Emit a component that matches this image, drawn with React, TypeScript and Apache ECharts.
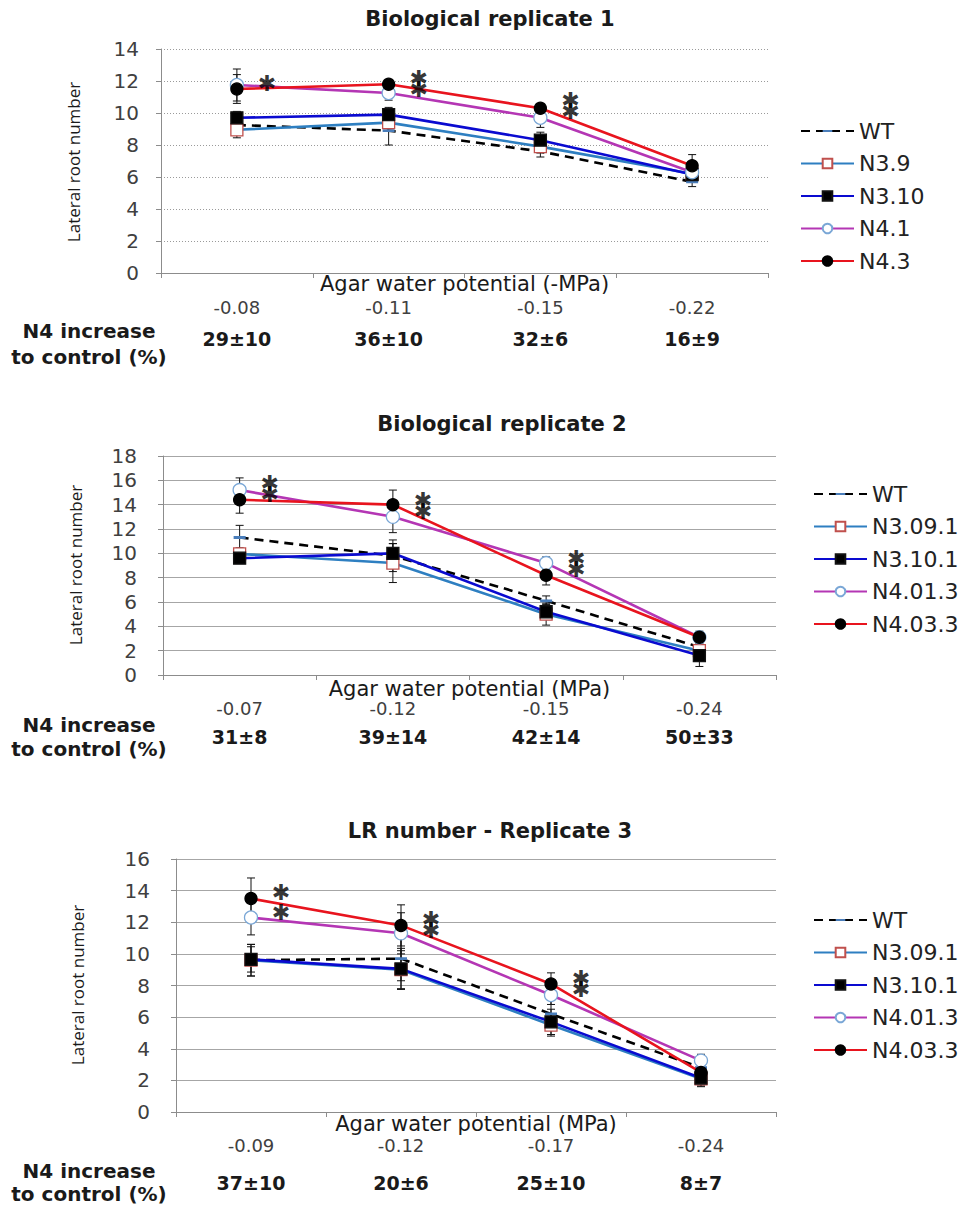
import React, { useEffect, useRef } from "react";
import * as echarts from "echarts";

// ---------- Panel 1 data ----------
const CATS_1 = ["-0.08", "-0.11", "-0.15", "-0.22"];
const INC_1 = ["29±10", "36±10", "32±6", "16±9"];
const NAMES_1 = ["WT", "N3.9", "N3.10", "N4.1", "N4.3"];
const P1_WT = [9.25, 8.9, 7.6, 5.7];
const P1_N39 = [8.95, 9.4, 7.9, 6.2];
const P1_N310 = [9.7, 9.9, 8.3, 6.15];
const P1_N41 = [11.75, 11.25, 9.7, 6.3];
const P1_N43 = [11.5, 11.8, 10.3, 6.7];
const P1_WT_SE = [0.4, 0.9, 0.35, 0.3];
const P1_N39_SE = [0.5, 0.5, 0.4, 0.4];
const P1_N310_SE = [0.4, 0.45, 0.5, 0.4];
const P1_N41_SE = [1.0, 0.45, 0.6, 0.5];
const P1_N43_SE = [0.9, 0.3, 0.3, 0.7];
// [category index, value, number of stacked asterisks]
const P1_SIG = [[0, 11.85, 1], [1, 11.83, 2], [2, 10.42, 2]];

// ---------- Panel 2 data ----------
const CATS_2 = ["-0.07", "-0.12", "-0.15", "-0.24"];
const INC_2 = ["31±8", "39±14", "42±14", "50±33"];
const NAMES_2 = ["WT", "N3.09.1", "N3.10.1", "N4.01.3", "N4.03.3"];
const P2_WT = [11.3, 9.8, 6.1, 2.3];
const P2_N309 = [9.95, 9.2, 5.0, 2.0];
const P2_N310 = [9.6, 10.0, 5.2, 1.6];
const P2_N401 = [15.2, 13.0, 9.2, 3.1];
const P2_N403 = [14.4, 14.0, 8.2, 3.1];
const P2_WT_SE = [1.0, 1.3, 0.4, 0.4];
const P2_N309_SE = [0.5, 1.6, 0.9, 0.5];
const P2_N310_SE = [0.4, 0.8, 0.6, 0.9];
const P2_N401_SE = [1.0, 1.3, 0.5, 0.4];
const P2_N403_SE = [1.1, 1.2, 0.8, 0.5];
const P2_SIG = [[0, 15.25, 2], [1, 13.9, 2], [2, 9.12, 2]];

// ---------- Panel 3 data ----------
const CATS_3 = ["-0.09", "-0.12", "-0.17", "-0.24"];
const INC_3 = ["37±10", "20±6", "25±10", "8±7"];
const NAMES_3 = ["WT", "N3.09.1", "N3.10.1", "N4.01.3", "N4.03.3"];
const P3_WT = [9.6, 9.7, 6.2, 2.8];
const P3_N309 = [9.6, 9.0, 5.5, 2.1];
const P3_N310 = [9.65, 9.05, 5.7, 2.15];
const P3_N401 = [12.3, 11.3, 7.4, 3.25];
const P3_N403 = [13.5, 11.8, 8.1, 2.5];
const P3_WT_SE = [1.0, 1.4, 1.0, 0.4];
const P3_N309_SE = [1.0, 1.2, 0.7, 0.5];
const P3_N310_SE = [0.8, 1.3, 0.8, 0.5];
const P3_N401_SE = [1.1, 1.3, 0.6, 0.4];
const P3_N403_SE = [1.3, 1.3, 0.7, 0.5];
const P3_SIG = [[0, 13.9, 1], [0, 12.6, 1], [1, 11.85, 2], [2, 8.1, 2]];

// thin horizontal dash inside a square bounding box (corner specks keep the box square)
const DASH_MARK =
  "path://M0 0h0.01v0.01h-0.01Z M11.99 11.99h0.01v0.01h-0.01Z M0 4.6H12V7.4H0Z";

const STYLES = [
  { line: "#000000", dashed: true, symbol: DASH_MARK, size: 12, fill: "#4a7ebb", border: "#4a7ebb" },
  { line: "#2e7fc1", dashed: false, symbol: "rect", size: 12, fill: "#ffffff", border: "#c0504d" },
  { line: "#0a0ad0", dashed: false, symbol: "rect", size: 12, fill: "#000000", border: "#111111" },
  { line: "#b436b4", dashed: false, symbol: "circle", size: 13, fill: "#ffffff", border: "#7aa7d6" },
  { line: "#e8141e", dashed: false, symbol: "circle", size: 12, fill: "#000000", border: "#000000" },
];

type PanelCfg = {
  height: number;
  title: string;
  titleX: number;
  titleTop: number;
  cats: string[];
  inc: string[];
  names: string[];
  means: number[][];
  ses: number[][];
  sig: number[][];
  yMax: number;
  dotted: boolean;
  grid: { left: number; top: number; width: number; height: number };
  xName: string;
  nameGap: number;
  labelMargin: number;
  incMargin: number;
  yLabelMargin: number;
  yNameX: number;
  yNameY: number;
  n4Y: number;
  ctrlY: number;
  legendLeft: number;
  legendTop: number;
};

const PANELS: PanelCfg[] = [
  {
    height: 390,
    title: "Biological replicate 1",
    titleX: 485,
    titleTop: 3,
    cats: CATS_1,
    inc: INC_1,
    names: NAMES_1,
    means: [P1_WT, P1_N39, P1_N310, P1_N41, P1_N43],
    ses: [P1_WT_SE, P1_N39_SE, P1_N310_SE, P1_N41_SE, P1_N43_SE],
    sig: P1_SIG,
    yMax: 14,
    dotted: true,
    grid: { left: 161, top: 49, width: 607, height: 224 },
    xName: "Agar water potential (-MPa)",
    nameGap: 0,
    labelMargin: 25,
    incMargin: 56,
    yLabelMargin: 22,
    yNameX: 73,
    yNameY: 162,
    n4Y: 331,
    ctrlY: 357,
    legendLeft: 795,
    legendTop: 115,
  },
  {
    height: 410,
    title: "Biological replicate 2",
    titleX: 497,
    titleTop: 18,
    cats: CATS_2,
    inc: INC_2,
    names: NAMES_2,
    means: [P2_WT, P2_N309, P2_N310, P2_N401, P2_N403],
    ses: [P2_WT_SE, P2_N309_SE, P2_N310_SE, P2_N401_SE, P2_N403_SE],
    sig: P2_SIG,
    yMax: 18,
    dotted: false,
    grid: { left: 163, top: 66, width: 613, height: 219 },
    xName: "Agar water potential (MPa)",
    nameGap: 3,
    labelMargin: 24,
    incMargin: 52,
    yLabelMargin: 26,
    yNameX: 75,
    yNameY: 175,
    n4Y: 335,
    ctrlY: 359,
    legendLeft: 808,
    legendTop: 88,
  },
  {
    height: 406,
    title: "LR number - Replicate 3",
    titleX: 485,
    titleTop: 15,
    cats: CATS_3,
    inc: INC_3,
    names: NAMES_3,
    means: [P3_WT, P3_N309, P3_N310, P3_N401, P3_N403],
    ses: [P3_WT_SE, P3_N309_SE, P3_N310_SE, P3_N401_SE, P3_N403_SE],
    sig: P3_SIG,
    yMax: 16,
    dotted: false,
    grid: { left: 176, top: 59, width: 600, height: 253 },
    xName: "Agar water potential (MPa)",
    nameGap: 1,
    labelMargin: 24,
    incMargin: 61,
    yLabelMargin: 26,
    yNameX: 77,
    yNameY: 185,
    n4Y: 371,
    ctrlY: 394,
    legendLeft: 808,
    legendTop: 104,
  },
];

function buildOption(p: PanelCfg): any {
  const lineSeries = p.names.map((name, i) => {
    const s = STYLES[i];
    return {
      type: "line",
      name,
      data: p.means[i],
      z: 3 + i,
      symbol: s.symbol,
      symbolSize: s.size,
      showSymbol: true,
      lineStyle: { color: s.line, width: 2.6, type: s.dashed ? [9, 6] : "solid" },
      itemStyle: { color: s.fill, borderColor: s.border, borderWidth: s.dashed ? 0 : 1.3 },
      emphasis: { disabled: true },
    };
  });
  const errData: number[][] = [];
  p.means.forEach((arr, i) => {
    arr.forEach((m, j) => {
      errData.push([j, m - p.ses[i][j], m + p.ses[i][j]]);
    });
  });
  const errSeries = {
    type: "custom",
    z: 2,
    silent: true,
    data: errData,
    encode: { x: 0, y: [1, 2] },
    renderItem: (params: any, api: any) => {
      const x = api.value(0);
      const lo = api.coord([x, api.value(1)]);
      const hi = api.coord([x, api.value(2)]);
      const w = 4;
      const style = { stroke: "#111", lineWidth: 1 };
      return {
        type: "group",
        children: [
          { type: "line", shape: { x1: lo[0], y1: lo[1], x2: hi[0], y2: hi[1] }, style },
          { type: "line", shape: { x1: lo[0] - w, y1: lo[1], x2: lo[0] + w, y2: lo[1] }, style },
          { type: "line", shape: { x1: hi[0] - w, y1: hi[1], x2: hi[0] + w, y2: hi[1] }, style },
        ],
      };
    },
  };
  const sigSeries = {
    type: "scatter",
    z: 10,
    silent: true,
    data: p.sig,
    encode: { x: 0, y: 1 },
    symbolSize: 1,
    itemStyle: { color: "rgba(0,0,0,0)" },
    label: {
      show: true,
      formatter: (d: any) => (d.value[2] === 2 ? "✱\n✱" : "✱"),
      position: "inside",
      offset: [30, 0],
      fontSize: 22,
      lineHeight: 11,
      fontWeight: "bold",
      fontFamily: "DejaVu Sans",
      color: "#000",
    },
  };

  return {
    animation: false,
    backgroundColor: "#ffffff",
    title: {
      text: p.title,
      left: p.titleX,
      top: p.titleTop,
      textAlign: "center",
      textStyle: { fontFamily: "DejaVu Sans", fontWeight: "bold", fontSize: 21, color: "#1a1a1a" },
    },
    legend: {
      data: p.names,
      orient: "vertical",
      left: p.legendLeft,
      top: p.legendTop,
      itemWidth: 53,
      itemHeight: 12,
      itemGap: 10.5,
      textStyle: { fontFamily: "DejaVu Sans", fontSize: 22, color: "#222" },
      selectedMode: false,
    },
    grid: { ...p.grid, containLabel: false },
    xAxis: [
      {
        type: "category",
        data: p.cats,
        boundaryGap: true,
        name: p.xName,
        nameLocation: "middle",
        nameGap: p.nameGap,
        nameMoveOverlap: false,
        nameTextStyle: { fontFamily: "DejaVu Sans", fontSize: 21, color: "#1a1a1a", verticalAlign: "top" },
        axisLine: { lineStyle: { color: "#8c8c8c", width: 1 } },
        axisTick: { show: true, length: 5, inside: false, lineStyle: { color: "#8c8c8c" } },
        axisLabel: { margin: p.labelMargin, interval: 0, fontFamily: "DejaVu Sans", fontSize: 18, color: "#404040" },
        splitLine: { show: false },
      },
      {
        type: "category",
        data: p.inc,
        position: "bottom",
        boundaryGap: true,
        axisLine: { show: false },
        axisTick: { show: false },
        axisLabel: {
          margin: p.incMargin,
          interval: 0,
          fontFamily: "DejaVu Sans",
          fontWeight: "bold",
          fontSize: 19,
          color: "#1a1a1a",
        },
        splitLine: { show: false },
      },
    ],
    yAxis: {
      type: "value",
      min: 0,
      max: p.yMax,
      interval: 2,
      axisLine: { show: true, lineStyle: { color: "#8c8c8c", width: 1 } },
      axisTick: { show: true, length: 5, lineStyle: { color: "#8c8c8c" } },
      axisLabel: { margin: p.yLabelMargin, fontFamily: "DejaVu Sans", fontSize: 20, color: "#404040" },
      splitLine: {
        show: true,
        lineStyle: p.dotted
          ? { color: "#9a9a9a", type: [1, 2], width: 1 }
          : { color: "#a6a6a6", type: "solid", width: 1 },
      },
    },
    graphic: [
      {
        type: "text",
        x: p.yNameX,
        y: p.yNameY,
        rotation: Math.PI / 2,
        style: {
          text: "Lateral root number",
          fontFamily: "Open Sans",
          fontSize: 17,
          fill: "#1a1a1a",
          align: "center",
          verticalAlign: "middle",
        },
      },
      {
        type: "text",
        x: 89,
        y: p.n4Y,
        style: {
          text: "N4 increase",
          fontFamily: "DejaVu Sans",
          fontWeight: "bold",
          fontSize: 20,
          fill: "#1a1a1a",
          align: "center",
          verticalAlign: "middle",
        },
      },
      {
        type: "text",
        x: 89,
        y: p.ctrlY,
        style: {
          text: "to control (%)",
          fontFamily: "DejaVu Sans",
          fontWeight: "bold",
          fontSize: 20,
          fill: "#1a1a1a",
          align: "center",
          verticalAlign: "middle",
        },
      },
    ],
    series: [errSeries, ...lineSeries, sigSeries],
  };
}

function Panel({ cfg, top }: { cfg: PanelCfg; top: number }) {
  const ref = useRef<HTMLDivElement | null>(null);
  useEffect(() => {
    if (!ref.current) return;
    const chart = echarts.init(ref.current, undefined, { renderer: "svg" });
    chart.setOption(buildOption(cfg));
    return () => chart.dispose();
  }, [cfg]);
  return (
    <div
      ref={ref}
      style={{ position: "absolute", left: 0, top, width: 960, height: cfg.height }}
    />
  );
}

export default function App() {
  const tops = [0, 390, 800];
  return (
    <div style={{ position: "absolute", left: 0, top: 0, width: 960, height: 1206, background: "#fff" }}>
      {PANELS.map((p, i) => (
        <Panel key={i} cfg={p} top={tops[i]} />
      ))}
    </div>
  );
}
